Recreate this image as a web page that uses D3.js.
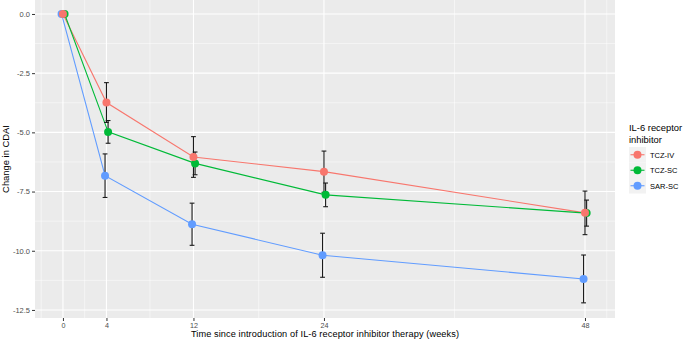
<!DOCTYPE html>
<html>
<head>
<meta charset="utf-8">
<script src="https://cdn.jsdelivr.net/npm/d3@7"></script>
<style>
  body { margin: 0; background: #fff; }
  svg { display: block; font-family: "Liberation Sans", Arial, sans-serif; }
</style>
</head>
<body>
<div class="viz"></div>
<script>
const weeks = [0, 4, 12, 24, 48];
const minorWeeks = [-2, 2, 8, 18, 36, 50];
const yTicks = [0, -2.5, -5, -7.5, -10, -12.5];
const yMinor = [1.25, -1.25, -3.75, -6.25, -8.75, -11.25];

const groups = ["TCZ-IV", "TCZ-SC", "SAR-SC"];
const colors = ["#F8766D", "#00BA38", "#619CFF"];
const dodge = [0, 0.15, -0.13];

const tczIV = [0, -3.74, -6.04, -6.66, -8.40];
const tczIVse = [0, 0.84, 0.86, 0.87, 0.92];
const tczSC = [0, -4.98, -6.31, -7.64, -8.41];
const tczSCse = [0, 0.48, 0.48, 0.50, 0.55];
const sarSC = [0, -6.83, -8.88, -10.19, -11.19];
const sarSCse = [0, 0.92, 0.89, 0.93, 1.01];

const seriesVals = [tczIV, tczSC, sarSC];
const seriesSe = [tczIVse, tczSCse, sarSCse];

const width = 685, height = 340;
const panel = { left: 35, right: 615, top: 0, bottom: 318 };

const svg = d3.select(".viz").append("svg")
  .attr("width", width)
  .attr("height", height);

const x = d3.scaleLinear().domain([-2.57, 50.76]).range([panel.left, panel.right]);
const y = d3.scaleLinear().domain([-12.84, 0.59]).range([panel.bottom, panel.top]);

// panel background
svg.append("rect")
  .attr("x", panel.left).attr("y", panel.top)
  .attr("width", panel.right - panel.left)
  .attr("height", panel.bottom - panel.top)
  .attr("fill", "#EBEBEB");

// minor grid
svg.append("g").selectAll("line")
  .data(minorWeeks).enter().append("line")
  .attr("x1", d => x(d)).attr("x2", d => x(d))
  .attr("y1", panel.top).attr("y2", panel.bottom)
  .attr("stroke", "#fff").attr("stroke-width", 0.5);
svg.append("g").selectAll("line")
  .data(yMinor).enter().append("line")
  .attr("y1", d => y(d)).attr("y2", d => y(d))
  .attr("x1", panel.left).attr("x2", panel.right)
  .attr("stroke", "#fff").attr("stroke-width", 0.5);

// major grid
svg.append("g").selectAll("line")
  .data(weeks).enter().append("line")
  .attr("x1", d => x(d)).attr("x2", d => x(d))
  .attr("y1", panel.top).attr("y2", panel.bottom)
  .attr("stroke", "#fff").attr("stroke-width", 1.1);
svg.append("g").selectAll("line")
  .data(yTicks).enter().append("line")
  .attr("y1", d => y(d)).attr("y2", d => y(d))
  .attr("x1", panel.left).attr("x2", panel.right)
  .attr("stroke", "#fff").attr("stroke-width", 1.1);

// axes
const xAxis = d3.axisBottom(x).tickValues(weeks).tickSize(3).tickPadding(1.5).tickFormat(d3.format("d"));
const gx = svg.append("g")
  .attr("transform", `translate(0,${panel.bottom})`)
  .call(xAxis);
gx.select(".domain").remove();
gx.selectAll(".tick line").attr("stroke", "#333").attr("stroke-width", 1);
gx.selectAll(".tick text").attr("fill", "#4D4D4D").style("font-size", "7.2px");

const yAxis = d3.axisLeft(y).tickValues(yTicks).tickSize(3).tickPadding(2).tickFormat(d3.format(".1f"));
const gy = svg.append("g")
  .attr("transform", `translate(${panel.left},0)`)
  .call(yAxis);
gy.select(".domain").remove();
gy.selectAll(".tick line").attr("stroke", "#333").attr("stroke-width", 1);
gy.selectAll(".tick text").attr("fill", "#4D4D4D").style("font-size", "7.5px")
  .text(d => d3.format(".1f")(d).replace("−", "-"));

svg.append("text")
  .attr("x", (panel.left + panel.right) / 2)
  .attr("y", 337.4)
  .attr("text-anchor", "middle")
  .style("font-size", "9.2px")
  .style("letter-spacing", "0.1px")
  .text("Time since introduction of IL-6 receptor inhibitor therapy (weeks)");

svg.append("text")
  .attr("transform", `translate(8.5,${(panel.top + panel.bottom) / 2}) rotate(-90)`)
  .attr("text-anchor", "middle")
  .style("font-size", "9.4px")
  .text("Change in CDAI");

const line = d3.line().x(d => x(d.w)).y(d => y(d.v));

const data = groups.map((g, i) => ({
  name: g,
  color: colors[i],
  pts: weeks.map((w, j) => ({ w: w + dodge[i], v: seriesVals[i][j], se: seriesSe[i][j] }))
}));

// lines
svg.append("g").selectAll("path")
  .data(data).enter().append("path")
  .attr("d", d => line(d.pts))
  .attr("fill", "none")
  .attr("stroke", d => d.color)
  .attr("stroke-width", 1.1);

// error bars
const capW = 0.22;
const eb = svg.append("g");
data.forEach(s => {
  s.pts.filter(p => p.se > 0).forEach(p => {
    const g = eb.append("g").attr("stroke", "#1a1a1a").attr("stroke-width", 1.1);
    g.append("line")
      .attr("x1", x(p.w)).attr("x2", x(p.w))
      .attr("y1", y(p.v + p.se)).attr("y2", y(p.v - p.se));
    [p.v + p.se, p.v - p.se].forEach(v => {
      g.append("line")
        .attr("x1", x(p.w - capW)).attr("x2", x(p.w + capW))
        .attr("y1", y(v)).attr("y2", y(v));
    });
  });
});

// points (red drawn last)
[2, 1, 0].forEach(i => {
  svg.append("g").selectAll("circle")
    .data(data[i].pts).enter().append("circle")
    .attr("cx", d => x(d.w))
    .attr("cy", d => y(d.v))
    .attr("r", 4)
    .attr("fill", data[i].color);
});

// legend
const lg = svg.append("g").attr("transform", "translate(629,0)");
lg.append("text").attr("x", 0).attr("y", 131).style("font-size", "9.4px").text("IL-6 receptor");
lg.append("text").attr("x", 0).attr("y", 142.5).style("font-size", "9.4px").text("inhibitor");

const keys = lg.selectAll(".key").data(data).enter().append("g")
  .attr("transform", (d, i) => `translate(0,${147 + i * 15.5})`);
keys.append("rect")
  .attr("width", 17).attr("height", 15.5)
  .attr("fill", "#F2F2F2");
keys.append("line")
  .attr("x1", 1.5).attr("x2", 15.5)
  .attr("y1", 7.75).attr("y2", 7.75)
  .attr("stroke", d => d.color).attr("stroke-width", 1.1);
keys.append("circle")
  .attr("cx", 8.5).attr("cy", 7.75).attr("r", 4)
  .attr("fill", d => d.color);
keys.append("text")
  .attr("x", 21).attr("y", 10.5)
  .style("font-size", "7.5px")
  .text(d => d.name);
</script>
</body>
</html>
